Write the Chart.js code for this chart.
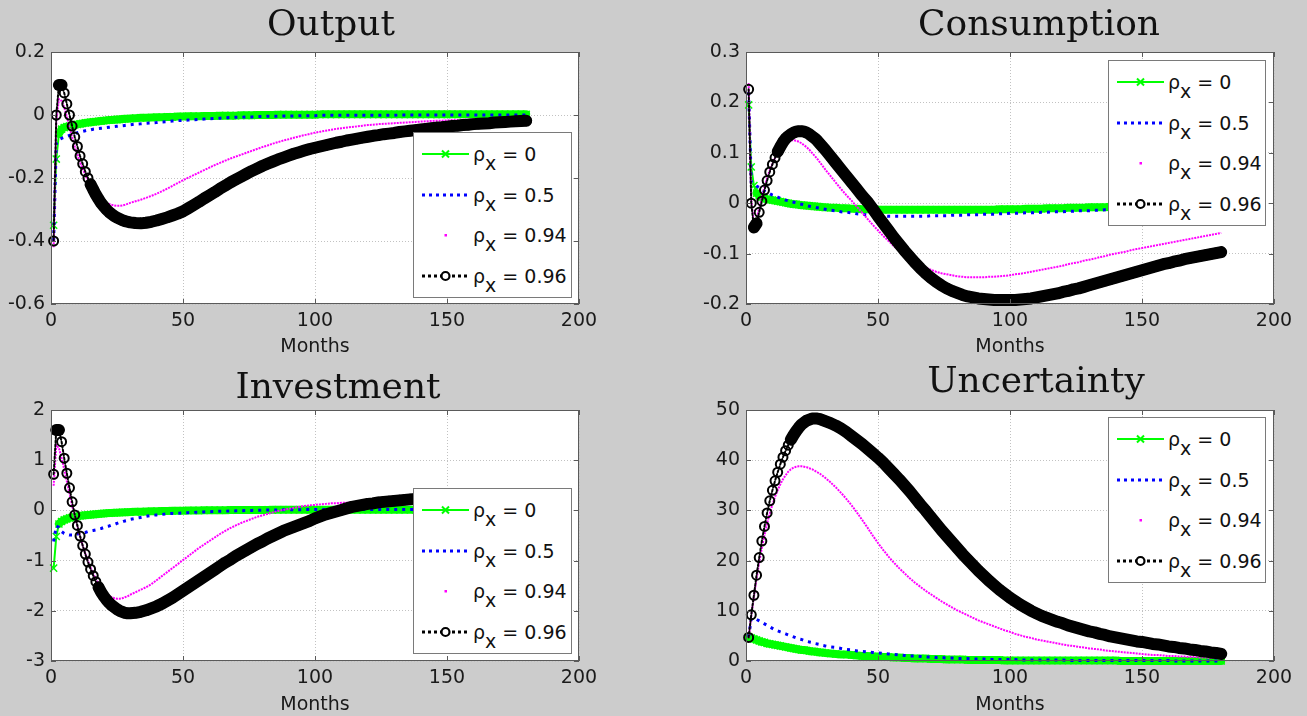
<!DOCTYPE html>
<html>
<head>
<meta charset="utf-8">
<title>Impulse responses</title>
<script src="https://cdn.jsdelivr.net/npm/chart.js@4.4.1/dist/chart.umd.min.js"></script>
<style>
  body { margin: 0; background: #cccccc; }
  #fig { position: relative; width: 1307px; height: 716px; overflow: hidden; background: #cccccc; }
  #fig canvas { position: absolute; }
  .title { position: absolute; width: 400px; text-align: center; font: 36px/42px "DejaVu Serif", serif; color: #111; }
  .legend { position: absolute; background: #fff; border: 1px solid #7a7a7a; box-sizing: border-box; }
  .legend .row { position: absolute; left: 0; right: 0; height: 20px; }
  .legend svg { position: absolute; left: 8px; top: 0; }
  .legend span { position: absolute; left: 59px; top: 0; font: 19px/20px "DejaVu Sans", sans-serif; color: #111; white-space: nowrap; }
  .legend sub { font-size: 19px; vertical-align: -9px; line-height: 0; }
</style>
</head>
<body>
<div id="fig"></div>
<script>
// months 1..30, then every second month up to 180
const months = [1, 2, 3, 4, 5, 6, 7, 8, 9, 10, 11, 12, 13, 14, 15, 16, 17, 18, 19, 20,
  21, 22, 23, 24, 25, 26, 27, 28, 29, 30,
  32, 34, 36, 38, 40, 42, 44, 46, 48, 50, 52, 54, 56, 58, 60, 62, 64, 66, 68, 70,
  72, 74, 76, 78, 80, 82, 84, 86, 88, 90, 92, 94, 96, 98, 100, 102, 104, 106, 108, 110,
  112, 114, 116, 118, 120, 122, 124, 126, 128, 130, 132, 134, 136, 138, 140, 142, 144, 146, 148, 150,
  152, 154, 156, 158, 160, 162, 164, 166, 168, 170, 172, 174, 176, 178, 180];

const rhoValues = ['0', '0.5', '0.94', '0.96'];
const monthTicks = [0, 50, 100, 150, 200];
const outputTicks = [-0.6, -0.4, -0.2, 0, 0.2];
const consumptionTicks = [-0.2, -0.1, 0, 0.1, 0.2, 0.3];
const investmentTicks = [-3, -2, -1, 0, 1, 2];
const uncertaintyTicks = [0, 10, 20, 30, 40, 50];

// ---- Output ----
const outputRho0 = [-0.35, -0.14, -0.06, -0.045, -0.04, -0.037, -0.035, -0.033, -0.031, -0.03,
  -0.028, -0.027, -0.025, -0.024, -0.023, -0.022, -0.021, -0.02, -0.019, -0.018,
  -0.017, -0.016, -0.016, -0.015, -0.014, -0.014, -0.013, -0.012, -0.012, -0.011,
  -0.01, -0.009, -0.009, -0.008, -0.007, -0.007, -0.006, -0.006, -0.005, -0.005,
  -0.004, -0.004, -0.004, -0.003, -0.003, -0.003, -0.002, -0.002, -0.002, -0.002,
  -0.001, -0.001, -0.001, 0, 0, 0, 0, 0.001, 0.001, 0.001,
  0.001, 0.001, 0.001, 0.001, 0.001, 0.002, 0.002, 0.002, 0.002, 0.002,
  0.002, 0.002, 0.002, 0.002, 0.002, 0.002, 0.002, 0.002, 0.002, 0.002,
  0.002, 0.002, 0.002, 0.002, 0.002, 0.002, 0.002, 0.002, 0.002, 0.002,
  0.002, 0.002, 0.002, 0.002, 0.002, 0.002, 0.002, 0.002, 0.002, 0.002,
  0.002, 0.002, 0.002, 0.002, 0.002];
const outputRho05 = [-0.4, -0.09, -0.078, -0.074, -0.071, -0.068, -0.065, -0.062, -0.059, -0.056,
  -0.054, -0.052, -0.05, -0.048, -0.047, -0.045, -0.044, -0.043, -0.042, -0.041,
  -0.04, -0.039, -0.038, -0.037, -0.036, -0.035, -0.034, -0.033, -0.032, -0.031,
  -0.029, -0.028, -0.026, -0.025, -0.024, -0.022, -0.021, -0.019, -0.018, -0.017,
  -0.016, -0.015, -0.014, -0.013, -0.012, -0.011, -0.01, -0.009, -0.008, -0.007,
  -0.007, -0.006, -0.006, -0.005, -0.005, -0.004, -0.004, -0.004, -0.003, -0.003,
  -0.003, -0.002, -0.002, -0.002, -0.002, -0.001, -0.001, -0.001, -0.001, -0.001,
  -0.001, -0.001, -0.001, -0.001, -0.001, -0.001, -0.001, -0.001, -0.001, -0.001,
  0, 0, 0, 0, 0, 0, 0, 0, 0, 0,
  0, 0, 0, 0, 0, 0, 0, 0, 0, 0,
  0, 0, 0, 0, 0];
const outputRho094 = [-0.42, -0.02, 0.05, 0.045, 0.025, -0.005, -0.04, -0.07, -0.1, -0.125,
  -0.15, -0.17, -0.19, -0.207, -0.222, -0.236, -0.248, -0.258, -0.266, -0.273,
  -0.278, -0.282, -0.285, -0.287, -0.288, -0.288, -0.287, -0.285, -0.282, -0.279,
  -0.274, -0.269, -0.263, -0.257, -0.25, -0.242, -0.234, -0.225, -0.216, -0.207,
  -0.199, -0.191, -0.183, -0.175, -0.167, -0.159, -0.152, -0.145, -0.138, -0.132,
  -0.126, -0.12, -0.114, -0.108, -0.102, -0.097, -0.091, -0.086, -0.081, -0.077,
  -0.072, -0.068, -0.064, -0.06, -0.056, -0.053, -0.05, -0.047, -0.044, -0.042,
  -0.04, -0.038, -0.036, -0.034, -0.032, -0.031, -0.029, -0.028, -0.027, -0.026,
  -0.025, -0.024, -0.023, -0.022, -0.021, -0.02, -0.019, -0.018, -0.018, -0.017,
  -0.016, -0.016, -0.015, -0.014, -0.014, -0.013, -0.013, -0.012, -0.012, -0.011,
  -0.011, -0.01, -0.01, -0.01, -0.009];
const outputRho096 = [-0.4, 0, 0.095, 0.095, 0.07, 0.035, 0, -0.035, -0.07, -0.1,
  -0.13, -0.155, -0.18, -0.2, -0.22, -0.237, -0.253, -0.267, -0.28, -0.29,
  -0.3, -0.308, -0.315, -0.321, -0.326, -0.33, -0.334, -0.337, -0.339, -0.341,
  -0.343, -0.344, -0.342, -0.339, -0.335, -0.33, -0.325, -0.319, -0.313, -0.306,
  -0.296, -0.286, -0.276, -0.265, -0.255, -0.245, -0.234, -0.224, -0.214, -0.205,
  -0.196, -0.187, -0.178, -0.17, -0.162, -0.155, -0.148, -0.141, -0.135, -0.129,
  -0.123, -0.118, -0.113, -0.108, -0.104, -0.1, -0.096, -0.092, -0.088, -0.085,
  -0.081, -0.078, -0.075, -0.072, -0.069, -0.066, -0.064, -0.061, -0.059, -0.057,
  -0.054, -0.052, -0.05, -0.048, -0.046, -0.044, -0.042, -0.04, -0.039, -0.037,
  -0.035, -0.034, -0.032, -0.031, -0.029, -0.028, -0.027, -0.026, -0.024, -0.023,
  -0.022, -0.021, -0.02, -0.019, -0.018];

// ---- Consumption ----
const consumptionRho0 = [0.195, 0.072, 0.035, 0.02, 0.015, 0.012, 0.01, 0.008, 0.007, 0.006,
  0.005, 0.004, 0.003, 0.002, 0.001, 0, -0.001, -0.002, -0.002, -0.003,
  -0.004, -0.004, -0.005, -0.005, -0.006, -0.006, -0.007, -0.007, -0.008, -0.008,
  -0.009, -0.009, -0.01, -0.01, -0.011, -0.011, -0.012, -0.012, -0.012, -0.013,
  -0.013, -0.013, -0.013, -0.013, -0.013, -0.013, -0.013, -0.013, -0.013, -0.013,
  -0.013, -0.013, -0.013, -0.013, -0.013, -0.013, -0.013, -0.013, -0.013, -0.013,
  -0.013, -0.013, -0.012, -0.012, -0.012, -0.012, -0.012, -0.011, -0.011, -0.011,
  -0.011, -0.01, -0.01, -0.01, -0.01, -0.009, -0.009, -0.009, -0.009, -0.008,
  -0.008, -0.008, -0.008, -0.007, -0.007, -0.007, -0.007, -0.007, -0.006, -0.006,
  -0.006, -0.006, -0.006, -0.006, -0.005, -0.005, -0.005, -0.005, -0.005, -0.005,
  -0.005, -0.004, -0.004, -0.004, -0.004];
const consumptionRho05 = [0.22, 0.042, 0.038, 0.034, 0.031, 0.027, 0.024, 0.021, 0.019, 0.016,
  0.014, 0.012, 0.01, 0.008, 0.006, 0.005, 0.003, 0.002, 0.001, -0.001,
  -0.002, -0.003, -0.005, -0.006, -0.007, -0.008, -0.009, -0.01, -0.011, -0.012,
  -0.014, -0.015, -0.017, -0.018, -0.019, -0.021, -0.022, -0.023, -0.024, -0.025,
  -0.025, -0.026, -0.026, -0.026, -0.026, -0.026, -0.026, -0.026, -0.026, -0.025,
  -0.025, -0.025, -0.025, -0.024, -0.024, -0.024, -0.023, -0.023, -0.023, -0.022,
  -0.022, -0.022, -0.021, -0.021, -0.02, -0.02, -0.02, -0.019, -0.019, -0.019,
  -0.018, -0.018, -0.017, -0.017, -0.017, -0.016, -0.016, -0.015, -0.015, -0.015,
  -0.014, -0.014, -0.013, -0.013, -0.013, -0.012, -0.012, -0.012, -0.011, -0.011,
  -0.011, -0.01, -0.01, -0.01, -0.009, -0.009, -0.009, -0.009, -0.008, -0.008,
  -0.008, -0.007, -0.007, -0.007, -0.007];
const consumptionRho094 = [0.238, 0.005, -0.04, -0.03, -0.01, 0.012, 0.032, 0.05, 0.065, 0.078,
  0.09, 0.1, 0.108, 0.115, 0.12, 0.123, 0.125, 0.125, 0.124, 0.122,
  0.119, 0.115, 0.111, 0.106, 0.1, 0.094, 0.088, 0.081, 0.074, 0.067,
  0.054, 0.041, 0.028, 0.016, 0.005, -0.007, -0.019, -0.031, -0.043, -0.054,
  -0.065, -0.075, -0.085, -0.094, -0.102, -0.11, -0.117, -0.123, -0.128, -0.132,
  -0.136, -0.139, -0.141, -0.143, -0.145, -0.146, -0.147, -0.147, -0.147, -0.147,
  -0.146, -0.146, -0.145, -0.144, -0.143, -0.141, -0.14, -0.138, -0.136, -0.134,
  -0.132, -0.13, -0.128, -0.126, -0.124, -0.121, -0.119, -0.117, -0.114, -0.112,
  -0.11, -0.107, -0.105, -0.102, -0.1, -0.098, -0.096, -0.093, -0.091, -0.089,
  -0.087, -0.085, -0.083, -0.081, -0.079, -0.077, -0.075, -0.073, -0.071, -0.069,
  -0.067, -0.065, -0.063, -0.061, -0.059];
const consumptionRho096 = [0.226, 0, -0.048, -0.04, -0.018, 0.004, 0.026, 0.045, 0.062, 0.077,
  0.09, 0.102, 0.112, 0.121, 0.128, 0.133, 0.137, 0.14, 0.142, 0.143,
  0.143, 0.142, 0.14, 0.137, 0.133, 0.129, 0.124, 0.118, 0.112, 0.106,
  0.093, 0.08, 0.067, 0.054, 0.041, 0.028, 0.015, 0.003, -0.011, -0.026,
  -0.04, -0.054, -0.068, -0.081, -0.094, -0.106, -0.118, -0.129, -0.139, -0.148,
  -0.156, -0.163, -0.169, -0.174, -0.178, -0.182, -0.185, -0.187, -0.189, -0.19,
  -0.191, -0.192, -0.192, -0.192, -0.192, -0.192, -0.191, -0.19, -0.189, -0.187,
  -0.185, -0.183, -0.181, -0.179, -0.176, -0.174, -0.171, -0.169, -0.166, -0.163,
  -0.16, -0.157, -0.154, -0.151, -0.148, -0.145, -0.142, -0.139, -0.136, -0.133,
  -0.13, -0.127, -0.124, -0.121, -0.119, -0.116, -0.114, -0.111, -0.109, -0.107,
  -0.105, -0.103, -0.101, -0.099, -0.097];

// ---- Investment ----
const investmentRho0 = [-1.15, -0.52, -0.27, -0.22, -0.19, -0.17, -0.15, -0.14, -0.13, -0.12,
  -0.11, -0.1, -0.095, -0.09, -0.085, -0.08, -0.075, -0.07, -0.065, -0.06,
  -0.057, -0.054, -0.051, -0.048, -0.045, -0.042, -0.04, -0.037, -0.035, -0.033,
  -0.029, -0.025, -0.022, -0.019, -0.016, -0.013, -0.011, -0.009, -0.007, -0.005,
  -0.003, -0.001, 0, 0.001, 0.002, 0.003, 0.004, 0.005, 0.006, 0.007,
  0.008, 0.008, 0.009, 0.009, 0.01, 0.01, 0.011, 0.011, 0.012, 0.012,
  0.012, 0.013, 0.013, 0.013, 0.013, 0.014, 0.014, 0.014, 0.014, 0.014,
  0.014, 0.014, 0.014, 0.014, 0.014, 0.014, 0.014, 0.014, 0.014, 0.014,
  0.013, 0.013, 0.013, 0.013, 0.013, 0.013, 0.013, 0.013, 0.013, 0.013,
  0.013, 0.013, 0.013, 0.013, 0.013, 0.013, 0.013, 0.013, 0.013, 0.013,
  0.012, 0.012, 0.012, 0.012, 0.012];
const investmentRho05 = [-0.62, -0.31, -0.34, -0.42, -0.46, -0.48, -0.49, -0.49, -0.48, -0.47,
  -0.46, -0.45, -0.44, -0.42, -0.41, -0.4, -0.39, -0.37, -0.36, -0.34,
  -0.32, -0.31, -0.29, -0.28, -0.26, -0.24, -0.23, -0.21, -0.2, -0.18,
  -0.16, -0.14, -0.12, -0.1, -0.09, -0.08, -0.07, -0.06, -0.055, -0.05,
  -0.045, -0.04, -0.035, -0.03, -0.026, -0.022, -0.018, -0.015, -0.012, -0.009,
  -0.006, -0.003, 0, 0.002, 0.004, 0.006, 0.008, 0.01, 0.012, 0.013,
  0.014, 0.015, 0.016, 0.017, 0.018, 0.018, 0.019, 0.019, 0.019, 0.02,
  0.02, 0.02, 0.02, 0.02, 0.02, 0.02, 0.02, 0.02, 0.02, 0.02,
  0.02, 0.02, 0.02, 0.02, 0.02, 0.02, 0.02, 0.02, 0.02, 0.02,
  0.02, 0.02, 0.02, 0.02, 0.02, 0.02, 0.02, 0.02, 0.02, 0.02,
  0.02, 0.02, 0.02, 0.02, 0.02];
const investmentRho094 = [0.49, 1.3, 1.24, 1.05, 0.82, 0.58, 0.34, 0.1, -0.12, -0.32,
  -0.52, -0.7, -0.86, -1.01, -1.14, -1.26, -1.37, -1.46, -1.54, -1.61,
  -1.66, -1.7, -1.73, -1.75, -1.76, -1.76, -1.75, -1.73, -1.71, -1.68,
  -1.63, -1.58, -1.53, -1.47, -1.39, -1.31, -1.23, -1.15, -1.07, -0.99,
  -0.91, -0.83, -0.75, -0.68, -0.61, -0.54, -0.47, -0.41, -0.35, -0.3,
  -0.25, -0.21, -0.17, -0.13, -0.1, -0.07, -0.04, -0.01, 0.01, 0.03,
  0.05, 0.07, 0.09, 0.1, 0.11, 0.12, 0.13, 0.14, 0.14, 0.15,
  0.15, 0.16, 0.16, 0.16, 0.16, 0.16, 0.16, 0.16, 0.16, 0.16,
  0.16, 0.16, 0.16, 0.16, 0.15, 0.15, 0.15, 0.15, 0.15, 0.15,
  0.15, 0.15, 0.14, 0.14, 0.14, 0.14, 0.14, 0.14, 0.14, 0.14,
  0.14, 0.13, 0.13, 0.13, 0.13];
const investmentRho096 = [0.72, 1.6, 1.6, 1.37, 1.04, 0.74, 0.45, 0.17, -0.09, -0.3,
  -0.51, -0.7, -0.87, -1.03, -1.17, -1.3, -1.42, -1.53, -1.63, -1.71,
  -1.78, -1.84, -1.89, -1.93, -1.97, -2, -2.02, -2.04, -2.05, -2.05,
  -2.04, -2.02, -1.99, -1.95, -1.91, -1.86, -1.8, -1.74, -1.67, -1.6,
  -1.53, -1.46, -1.39, -1.32, -1.25, -1.18, -1.11, -1.04, -0.98, -0.91,
  -0.85, -0.79, -0.73, -0.67, -0.62, -0.56, -0.51, -0.46, -0.41, -0.37,
  -0.33, -0.29, -0.25, -0.21, -0.16, -0.12, -0.08, -0.05, -0.02, 0.01,
  0.04, 0.07, 0.09, 0.11, 0.13, 0.14, 0.16, 0.17, 0.18, 0.19,
  0.2, 0.21, 0.22, 0.23, 0.24, 0.24, 0.25, 0.25, 0.26, 0.26,
  0.26, 0.26, 0.26, 0.26, 0.26, 0.26, 0.26, 0.25, 0.25, 0.25,
  0.24, 0.24, 0.24, 0.23, 0.23];

// ---- Uncertainty ----
const uncertaintyRho0 = [4.8, 4.6, 4.4, 4.2, 4.0, 3.8, 3.7, 3.5, 3.4, 3.3,
  3.2, 3.1, 3.0, 2.9, 2.8, 2.7, 2.6, 2.5, 2.4, 2.3,
  2.2, 2.2, 2.1, 2.0, 1.9, 1.9, 1.8, 1.7, 1.7, 1.6,
  1.5, 1.4, 1.3, 1.3, 1.2, 1.1, 1.0, 1.0, 0.9, 0.9,
  0.8, 0.8, 0.7, 0.7, 0.6, 0.6, 0.5, 0.5, 0.5, 0.4,
  0.4, 0.4, 0.3, 0.3, 0.3, 0.3, 0.2, 0.2, 0.2, 0.2,
  0.2, 0.2, 0.2, 0.1, 0.1, 0.1, 0.1, 0.1, 0.1, 0.1,
  0.1, 0.1, 0.1, 0.1, 0.1, 0.1, 0.1, 0.1, 0.1, 0.1,
  0.1, 0.1, 0.1, 0.1, 0.1, 0, 0, 0, 0, 0,
  0, 0, 0, 0, 0, 0, 0, 0, 0, 0,
  0, 0, 0, 0, 0];
const uncertaintyRho05 = [4.8, 8.4, 8.5, 8.3, 8.0, 7.7, 7.4, 7.1, 6.8, 6.5,
  6.2, 6.0, 5.8, 5.6, 5.4, 5.2, 5.0, 4.8, 4.6, 4.4,
  4.3, 4.1, 3.9, 3.8, 3.7, 3.5, 3.4, 3.3, 3.1, 3.0,
  2.8, 2.7, 2.5, 2.3, 2.2, 2.0, 1.9, 1.8, 1.7, 1.6,
  1.5, 1.4, 1.3, 1.2, 1.1, 1.0, 1.0, 0.9, 0.8, 0.8,
  0.7, 0.7, 0.6, 0.6, 0.5, 0.5, 0.5, 0.4, 0.4, 0.4,
  0.3, 0.3, 0.3, 0.3, 0.3, 0.3, 0.2, 0.2, 0.2, 0.2,
  0.2, 0.2, 0.2, 0.2, 0.2, 0.1, 0.1, 0.1, 0.1, 0.1,
  0.1, 0.1, 0.1, 0.1, 0.1, 0.1, 0.1, 0.1, 0.1, 0.1,
  0.1, 0.1, 0.1, 0.1, 0.1, 0, 0, 0, 0, 0,
  0, 0, 0, 0, 0];
const uncertaintyRho094 = [4.6, 9.0, 12.8, 16.4, 19.6, 22.5, 25.1, 27.4, 29.4, 31.1,
  32.7, 34.0, 35.2, 36.2, 37.0, 37.7, 38.2, 38.5, 38.7, 38.8,
  38.8, 38.7, 38.6, 38.4, 38.2, 37.9, 37.6, 37.3, 36.9, 36.5,
  35.6, 34.6, 33.5, 32.3, 31.0, 29.6, 28.1, 26.6, 25.0, 23.5,
  22.1, 20.8, 19.6, 18.5, 17.5, 16.5, 15.6, 14.8, 14.0, 13.3,
  12.6, 11.9, 11.3, 10.7, 10.1, 9.6, 9.1, 8.6, 8.1, 7.7,
  7.3, 6.9, 6.5, 6.1, 5.8, 5.4, 5.1, 4.8, 4.6, 4.3,
  4.1, 3.9, 3.7, 3.5, 3.3, 3.1, 3.0, 2.8, 2.7, 2.5,
  2.4, 2.3, 2.1, 2.0, 1.9, 1.8, 1.7, 1.6, 1.5, 1.4,
  1.3, 1.2, 1.2, 1.1, 1.0, 1.0, 0.9, 0.9, 0.8, 0.8,
  0.7, 0.7, 0.6, 0.6, 0.5];
const uncertaintyRho096 = [4.7, 9.2, 13.1, 17.1, 20.6, 23.9, 26.8, 29.5, 31.9, 34.0,
  35.9, 37.6, 39.2, 40.6, 41.9, 43.0, 44.1, 45.0, 45.8, 46.5,
  47.1, 47.5, 47.9, 48.1, 48.3, 48.3, 48.3, 48.2, 48.0, 47.8,
  47.4, 46.9, 46.3, 45.6, 44.8, 44.0, 43.2, 42.3, 41.4, 40.5,
  39.5, 38.4, 37.3, 36.2, 35.0, 33.8, 32.5, 31.2, 30.0, 28.7,
  27.4, 26.1, 24.9, 23.7, 22.5, 21.3, 20.2, 19.1, 18.0, 17.0,
  16.0, 15.1, 14.2, 13.4, 12.6, 11.9, 11.2, 10.6, 10.0, 9.5,
  9.0, 8.6, 8.2, 7.8, 7.5, 7.1, 6.8, 6.5, 6.2, 5.9,
  5.7, 5.4, 5.2, 4.9, 4.7, 4.5, 4.3, 4.1, 3.9, 3.8,
  3.6, 3.4, 3.3, 3.1, 2.9, 2.8, 2.6, 2.5, 2.3, 2.2,
  2.0, 1.9, 1.7, 1.6, 1.4];

// pixel distance per month between two neighbouring points; small means markers pile up into a band
const perMonthGap = c => {
  const dm = months[c.p1DataIndex] - months[c.p0DataIndex];
  return Math.hypot(c.p1.x - c.p0.x, c.p1.y - c.p0.y) / dm;
};

// line styles per rho, in legend order (green x, blue dotted, magenta dots, black circles)
const seriesStyles = [
  { borderColor: '#00ff00', borderWidth: 2, pointStyle: 'crossRot', pointRadius: 5, pointBorderWidth: 1.5,
    pointBorderColor: '#00ff00', pointBackgroundColor: '#00ff00', order: 3,
    borderJoinStyle: 'round', borderCapStyle: 'round',
    segment: { borderWidth: c => perMonthGap(c) < 6 ? 8 : undefined } },
  { borderColor: '#0000ff', borderWidth: 3, borderDash: [3, 5], pointRadius: 0, order: 2 },
  { borderColor: '#ff00ff', borderWidth: 2, borderDash: [2, 1], pointRadius: 0, order: 1 },
  { borderColor: '#000000', borderWidth: 2, borderDash: [2, 2], pointStyle: 'circle', pointRadius: 4.5,
    pointBorderWidth: 2, pointBorderColor: '#000000', pointBackgroundColor: 'rgba(0,0,0,0)', order: 0,
    borderJoinStyle: 'round', borderCapStyle: 'round',
    segment: {
      borderWidth: c => perMonthGap(c) < 6 ? 12 : undefined,
      borderDash: c => perMonthGap(c) < 6 ? [] : undefined
    } }
];

const legendSamples = [
  '<svg width="47" height="20"><line x1="0" y1="10" x2="47" y2="10" stroke="#00ff00" stroke-width="2"/>' +
    '<path d="M20 6.5L27 13.5M27 6.5L20 13.5" stroke="#00ff00" stroke-width="2"/></svg>',
  '<svg width="47" height="20"><line x1="0" y1="10" x2="47" y2="10" stroke="#0000ff" stroke-width="3" stroke-dasharray="3 4"/></svg>',
  '<svg width="47" height="20"><rect x="22.5" y="9" width="2.5" height="2.5" fill="#ff00ff"/></svg>',
  '<svg width="47" height="20"><line x1="0" y1="10" x2="47" y2="10" stroke="#000" stroke-width="3" stroke-dasharray="3 3"/>' +
    '<circle cx="23.5" cy="10" r="4" fill="#fff" stroke="#000" stroke-width="2.2"/></svg>'
];

const panels = [
  { title: 'Output', series: [outputRho0, outputRho05, outputRho094, outputRho096], yTicks: outputTicks,
    box: { left: 0, top: 0, width: 650, height: 358 }, padTop: 52, padRight: 71, xAxisH: 54,
    titleX: 331, titleTop: 2, legend: { left: 413, top: 132, width: 159, height: 166 } },
  { title: 'Consumption', series: [consumptionRho0, consumptionRho05, consumptionRho094, consumptionRho096], yTicks: consumptionTicks,
    box: { left: 695, top: 0, width: 612, height: 358 }, padTop: 52, padRight: 33, xAxisH: 54,
    titleX: 1039, titleTop: 2, legend: { left: 1108, top: 60, width: 158, height: 166 } },
  { title: 'Investment', series: [investmentRho0, investmentRho05, investmentRho094, investmentRho096], yTicks: investmentTicks,
    box: { left: 0, top: 358, width: 650, height: 358 }, padTop: 52, padRight: 71, xAxisH: 55,
    titleX: 338, titleTop: 365, legend: { left: 413, top: 488, width: 159, height: 166 } },
  { title: 'Uncertainty', series: [uncertaintyRho0, uncertaintyRho05, uncertaintyRho094, uncertaintyRho096], yTicks: uncertaintyTicks,
    box: { left: 695, top: 358, width: 612, height: 358 }, padTop: 52, padRight: 33, xAxisH: 55,
    titleX: 1036, titleTop: 359, legend: { left: 1108, top: 417, width: 158, height: 166 } }
];

const tickFont = { family: '"DejaVu Sans", sans-serif', size: 19 };
const inkColor = '#1a1a1a';

// white axes background, then box with inward tick marks like matlab
const axesFrame = {
  id: 'axesFrame',
  beforeDraw(chart) {
    const { ctx, chartArea: a } = chart;
    ctx.save();
    ctx.fillStyle = '#ffffff';
    ctx.fillRect(a.left, a.top, a.right - a.left, a.bottom - a.top);
    ctx.restore();
  },
  afterDraw(chart) {
    const { ctx, chartArea: a, scales } = chart;
    ctx.save();
    ctx.strokeStyle = '#5a5a5a';
    ctx.lineWidth = 1;
    ctx.strokeRect(a.left + 0.5, a.top + 0.5, a.right - a.left - 1, a.bottom - a.top - 1);
    ctx.beginPath();
    scales.x.ticks.forEach(t => {
      const px = Math.round(scales.x.getPixelForValue(t.value)) + 0.5;
      ctx.moveTo(px, a.bottom); ctx.lineTo(px, a.bottom - 5);
      ctx.moveTo(px, a.top); ctx.lineTo(px, a.top + 5);
    });
    scales.y.ticks.forEach(t => {
      const py = Math.round(scales.y.getPixelForValue(t.value)) + 0.5;
      ctx.moveTo(a.left, py); ctx.lineTo(a.left + 5, py);
      ctx.moveTo(a.right, py); ctx.lineTo(a.right - 5, py);
    });
    ctx.stroke();
    ctx.restore();
  }
};

const fig = document.getElementById('fig');

panels.forEach(p => {
  const canvas = document.createElement('canvas');
  canvas.width = p.box.width;
  canvas.height = p.box.height;
  canvas.style.left = p.box.left + 'px';
  canvas.style.top = p.box.top + 'px';
  fig.appendChild(canvas);

  const title = document.createElement('div');
  title.className = 'title';
  title.textContent = p.title;
  title.style.left = (p.titleX - 200) + 'px';
  title.style.top = p.titleTop + 'px';
  fig.appendChild(title);

  const datasets = p.series.map((vals, i) => Object.assign({
    label: 'ρx = ' + rhoValues[i],
    data: months.map((m, j) => ({ x: m, y: vals[j] })),
    fill: false,
    tension: 0,
    clip: false
  }, seriesStyles[i]));

  new Chart(canvas, {
    type: 'line',
    data: { datasets },
    plugins: [axesFrame],
    options: {
      responsive: false,
      animation: false,
      devicePixelRatio: 1,
      layout: { padding: { top: p.padTop, right: p.padRight, left: 0, bottom: 0 } },
      plugins: { legend: { display: false }, tooltip: { enabled: false } },
      scales: {
        x: {
          type: 'linear',
          min: monthTicks[0],
          max: monthTicks[monthTicks.length - 1],
          afterBuildTicks: s => { s.ticks = monthTicks.map(v => ({ value: v })); },
          afterFit: s => { s.height = p.xAxisH; },
          ticks: { color: inkColor, font: tickFont, padding: 6, maxRotation: 0, callback: v => String(v) },
          grid: { color: '#c2c2c2', drawTicks: false },
          border: { display: false, dash: [1, 2] },
          title: { display: true, text: 'Months', color: inkColor, font: tickFont, padding: 0 }
        },
        y: {
          type: 'linear',
          min: p.yTicks[0],
          max: p.yTicks[p.yTicks.length - 1],
          afterBuildTicks: s => { s.ticks = p.yTicks.map(v => ({ value: v })); },
          afterFit: s => { s.width = 51; },
          ticks: { color: inkColor, font: tickFont, padding: 6, callback: v => String(Math.round(v * 100) / 100) },
          grid: { color: '#c2c2c2', drawTicks: false },
          border: { display: false, dash: [1, 2] }
        }
      }
    }
  });

  const legend = document.createElement('div');
  legend.className = 'legend';
  legend.style.left = p.legend.left + 'px';
  legend.style.top = p.legend.top + 'px';
  legend.style.width = p.legend.width + 'px';
  legend.style.height = p.legend.height + 'px';
  legend.innerHTML = rhoValues.map((r, i) =>
    '<div class="row" style="top:' + (11 + 40.5 * i) + 'px">' + legendSamples[i] +
    '<span>ρ<sub>x</sub> = ' + r + '</span></div>').join('');
  fig.appendChild(legend);
});
</script>
</body>
</html>
